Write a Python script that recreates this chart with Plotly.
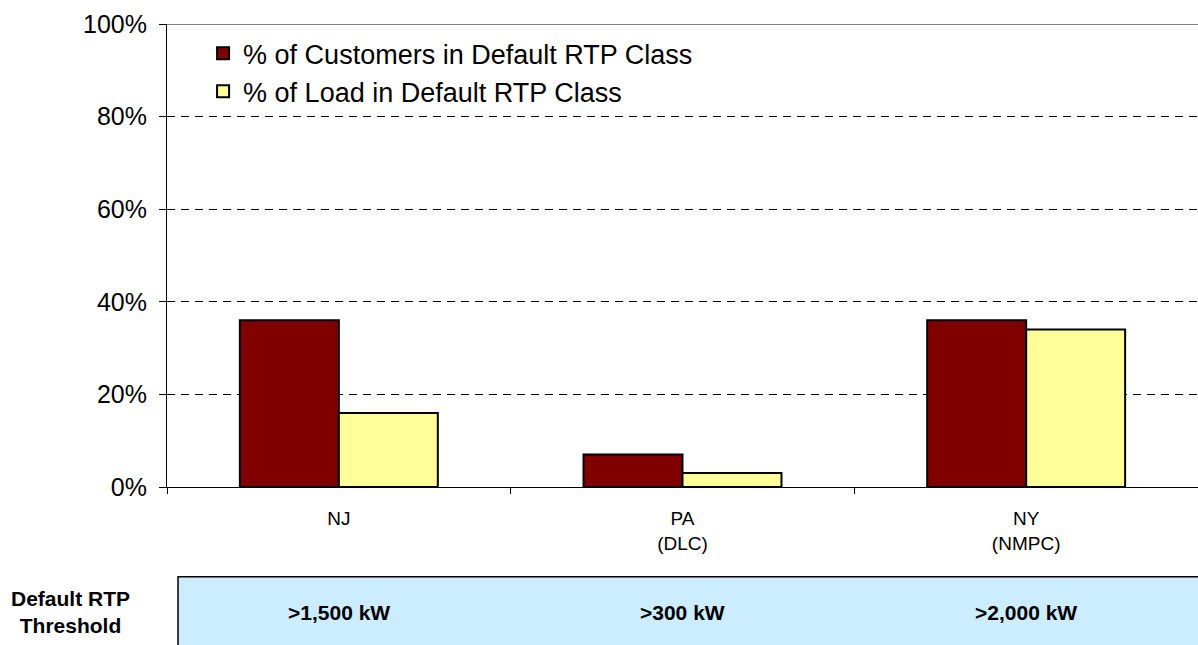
import plotly.graph_objects as go

# chart data
states = ["NJ", "PA<br>(DLC)", "NY<br>(NMPC)"]
pct_customers = [36, 7, 36]
pct_load = [16, 3, 34]
thresholds = [">1,500 kW", ">300 kW", ">2,000 kW"]
y_ticks = [0, 20, 40, 60, 80, 100]

FONT = "Arial, Liberation Sans, sans-serif"

fig = go.Figure()

fig.add_trace(go.Bar(
    x=states, y=pct_customers,
    name="% of Customers in Default RTP Class",
    marker=dict(color="#800000", line=dict(color="#000000", width=2)),
    legendgroup="a",
))
fig.add_trace(go.Bar(
    x=states, y=pct_load,
    name="% of Load in Default RTP Class",
    marker=dict(color="#FFFF99", line=dict(color="#000000", width=2)),
    legendgroup="b",
))

# threshold strip under the chart
fig.add_shape(
    type="rect", xref="paper", yref="paper",
    x0=0.0107, x1=1.05, y0=-0.194, y1=-0.5,
    fillcolor="#CCECFF", line=dict(color="#000000", width=1.5),
    layer="below",
)
# solid top border at 100%
fig.add_shape(
    type="line", xref="paper", yref="y",
    x0=0, x1=1, y0=100, y1=100,
    line=dict(color="#000000", width=1),
)

for s, t in zip(states, thresholds):
    fig.add_annotation(
        x=s, xref="x", y=-0.27, yref="paper",
        xanchor="center", yanchor="middle",
        text=f"<b>{t}</b>", showarrow=False,
        font=dict(family=FONT, size=21, color="#000000"),
    )

fig.add_annotation(
    x=-0.094, xref="paper", y=-0.27, yref="paper",
    xanchor="center", yanchor="middle", align="center",
    text="<b>Default RTP<br>Threshold</b>", showarrow=False,
    font=dict(family=FONT, size=21, color="#000000"),
)

fig.update_layout(
    width=1198, height=645,
    margin=dict(l=167, r=0, t=24, b=158),
    plot_bgcolor="#ffffff",
    paper_bgcolor="#ffffff",
    font=dict(family=FONT, color="#000000"),
    barmode="group",
    bargap=0.424,
    bargroupgap=0,
    legend=dict(
        x=0.035, y=0.989, xanchor="left", yanchor="top",
        font=dict(family=FONT, size=27, color="#000000"),
        traceorder="grouped", tracegroupgap=0,
        bgcolor="rgba(0,0,0,0)",
    ),
)

fig.update_yaxes(
    range=[0, 100],
    tickvals=y_ticks,
    ticktext=[f"{v}%" for v in y_ticks],
    ticks="outside", ticklen=7, tickcolor="#000000",
    ticklabelstandoff=7,
    tickfont=dict(family=FONT, size=25, color="#000000"),
    showline=True, linecolor="#000000", linewidth=1,
    showgrid=True, gridcolor="#000000", gridwidth=1, griddash="8px,6px",
    zeroline=False,
)
fig.update_xaxes(
    tickson="boundaries",
    ticks="outside", ticklen=6, tickcolor="#000000",
    ticklabelstandoff=14,
    tickfont=dict(family=FONT, size=19, color="#000000"),
    showline=True, linecolor="#000000", linewidth=1,
    showgrid=False,
)

# drop the default page margin so the figure sits at the window origin
fig.write_html(
    "out.html",
    config={"displayModeBar": False},
    post_script="document.body.style.margin='0';document.body.style.overflow='hidden';",
)
